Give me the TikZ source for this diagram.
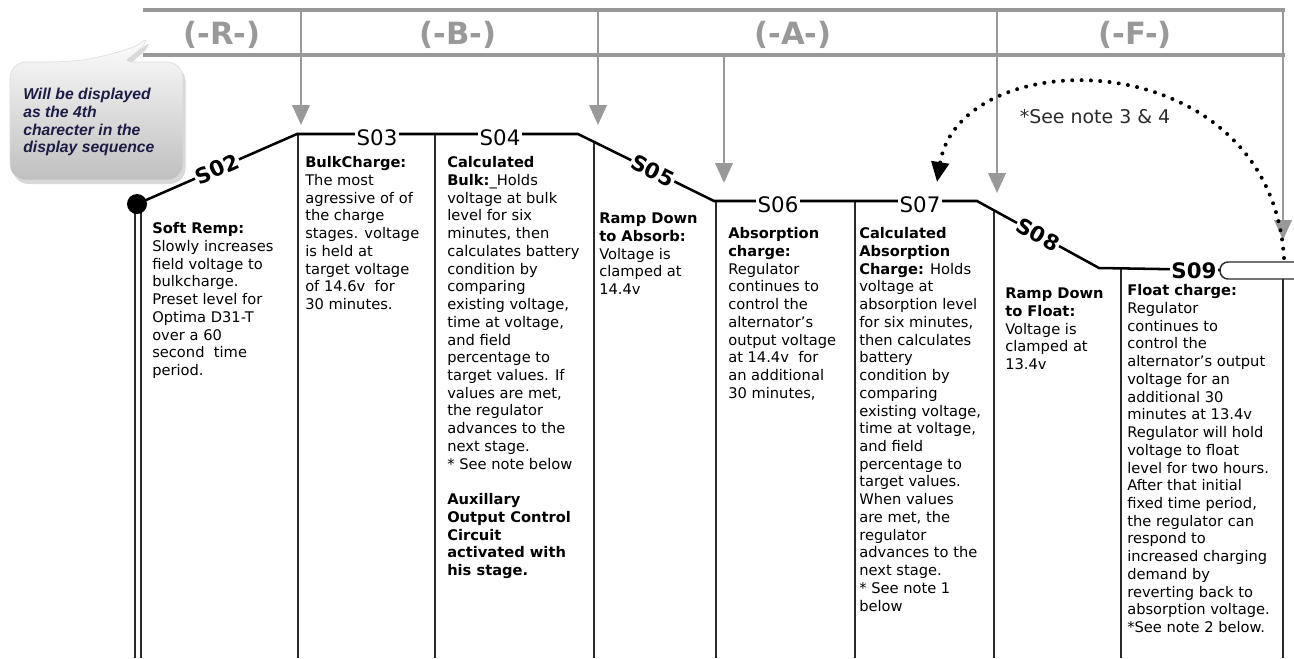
\documentclass[tikz,border=0pt]{standalone}
\usepackage{fontspec}
\setmainfont{DejaVu Sans}
\newfontfamily\calloutfont{Liberation Sans}
\usetikzlibrary{arrows.meta,positioning,shadows}

\definecolor{hdrgray}{HTML}{999999}
\definecolor{colgray}{HTML}{2A2A2A}
\definecolor{bubbletext}{HTML}{1C1C44}

\begin{document}
\begin{tikzpicture}[
    x = 0.75pt, y = -0.75pt, % one unit = one pixel, y going down
    hdr/.style = {draw = hdrgray, line width = 3.5pt},
    hdrarrow/.style = {draw = hdrgray, line width = 2.2pt, -{Triangle[width = 13pt, length = 15pt]}},
    hdrlabel/.style = {text = hdrgray, font = \fontsize{23}{23}\selectfont\bfseries},
    profile/.style = {draw = black, line width = 1.9pt}, % charge curve
    colline/.style = {draw = colgray, line width = 1.1pt},
    stagelab/.style = {fill = white, inner sep = 1pt, font = \fontsize{16}{16}\selectfont},
    stagebold/.style = {stagelab, font = \fontsize{16}{16}\selectfont\bfseries},
    backarc/.style = {line width = 3pt, line cap = round, dash pattern = on 0pt off 7pt,
        -{Triangle[width = 13pt, length = 15pt]}}
    ]

    \tikzset{coltext/.style = {
        anchor = north west,
        inner sep = 0pt,
        align = left,
        font = \fontsize{11}{13.3}\selectfont
        }}

    \useasboundingbox (0,0) rectangle (1294,658);

    % callout bubble
    \path[top color = white, bottom color = gray!50, draw = gray!30, rounded corners = 12pt,
        drop shadow = {opacity = 0.3, shadow xshift = 2pt, shadow yshift = -3pt}]
        (10,62) -- (64,62) .. controls (100,58) and (135,48) .. (152,33)
        .. controls (140,50) and (128,58) .. (118,62) -- (183,62) -- (183,180) -- (10,180) -- cycle;
    \node[anchor = north west, inner sep = 0pt, align = left, text = bubbletext,
        font = \calloutfont\fontsize{11.8}{13.3}\selectfont\bfseries\itshape] (bubbletxt) at (23,87)
        {\strut Will be displayed\\as the 4th\\charecter in the\\display sequence};

    % header
    \coordinate (hTL) at (143,10);
    \coordinate (hTR) at (1285,10);
    \coordinate (hBL) at (143,55);
    \coordinate (hBR) at (1285,55);
    \draw[hdr] (hTL) -- (hTR);
    \draw[hdr] (hBL) -- (hBR);
    \foreach \n/\x/\ytop/\ytip in {r/301/10/125, b/598/10/125, a/724/55/183, f/997/10/193, e/1283/10/240} {
        \coordinate (g\n) at (\x,\ytop);
        \coordinate (t\n) at (\x,\ytip);
        \draw[hdrarrow] (g\n) -- (t\n);
    }
    \node[hdrlabel] (labR) at (222,35) {(-R-)};
    \node[hdrlabel] (labB) at (458,35) {(-B-)};
    \node[hdrlabel] (labA) at (793,35) {(-A-)};
    \node[hdrlabel] (labF) at (1135,35) {(-F-)};

    % column lines
    \foreach \x/\y in {298/134, 435/134, 594/142, 716/201, 855/201, 994/210, 1121/268, 1283/279}
        \draw[colline] (\x,\y) -- (\x,658);
    \draw[colline] (135,204) -- (135,658);
    \draw[colline] (141,204) -- (141,658);

    % charge profile
    \node[circle, fill = black, inner sep = 0pt, minimum size = 15pt] (start) at (137,204) {};
    \coordinate (c1) at (297,134);
    \coordinate (c2) at (578,134);
    \coordinate (c3) at (714,201);
    \coordinate (c4) at (977,201);
    \coordinate (c5) at (1099,268);
    \coordinate (cap) at (1220,270);
    \draw[profile] (start.center) -- node[stagebold, sloped] {S02} (c1) -- (c2)
        -- node[stagebold, sloped, pos = 0.55] {S05} (c3) -- (c4)
        -- node[stagebold, sloped] {S08} (c5) -- (cap);
    \draw[colline, rounded corners = 6pt] (1294,262) -- (1220,262) -- (1220,279) -- (1294,279);
    \node[stagelab] (s03) at (377,138) {S03};
    \node[stagelab] (s04) at (500,138) {S04};
    \node[stagelab] (s06) at (778,205) {S06};
    \node[stagelab] (s07) at (920,205) {S07};
    \node[stagebold] (s09) at (1194,271) {S09};

    % loop back from float to absorption
    \coordinate (loopS) at (1284,258);
    \coordinate (loopE) at (937,182);
    \draw[backarc] (loopS) .. controls (1270,40) and (960,40) .. (loopE);
    \node[text = colgray, font = \fontsize{14.2}{14.2}\selectfont] (note34) at (1095,117) {*See note 3 \& 4};

    % stage texts
    \node[coltext] (txt02) at (152,221) {\strut\textbf{Soft Remp:}\\Slowly increases\\field voltage to\\bulkcharge.\\Preset level for\\Optima D31-T\\over a 60\\second~ time\\period.};
    \node[coltext] (txt03) at (305,155) {\strut\textbf{BulkCharge:}\\The most\\agressive of of\\the charge\\stages. voltage\\is held at\\target voltage\\of 14.6v~ for\\30 minutes.};
    \node[coltext] (txt04) at (447,155) {\strut\textbf{Calculated}\\\textbf{Bulk:}\_Holds\\voltage at bulk\\level for six\\minutes, then\\calculates battery\\condition by\\comparing\\existing voltage,\\time at voltage,\\and field\\percentage to\\target values. If\\values are met,\\the regulator\\advances to the\\next stage.\\{*} See note below\\[13.3pt]\textbf{Auxillary}\\\textbf{Output Control}\\\textbf{Circuit}\\\textbf{activated with}\\\textbf{his stage.}};
    \node[coltext] (txt05) at (599,211) {\strut\textbf{Ramp Down}\\\textbf{to Absorb:}\\Voltage is\\clamped at\\14.4v};
    \node[coltext] (txt06) at (728,226) {\strut\textbf{Absorption}\\\textbf{charge:}\\Regulator\\continues to\\control the\\alternator’s\\output voltage\\at 14.4v~ for\\an additional\\30 minutes,};
    \node[coltext] (txt07) at (859,226) {\strut\textbf{Calculated}\\\textbf{Absorption}\\\textbf{Charge:} Holds\\voltage at\\absorption level\\for six minutes,\\then calculates\\battery\\condition by\\comparing\\existing voltage,\\time at voltage,\\and field\\percentage to\\target values.\\When values\\are met, the\\regulator\\advances to the\\next stage.\\{*} See note 1\\below};
    \node[coltext] (txt08) at (1005,286) {\strut\textbf{Ramp Down}\\\textbf{to Float:}\\Voltage is\\clamped at\\13.4v};
    \node[coltext] (txt09) at (1127,283) {\strut\textbf{Float charge:}\\Regulator\\continues to\\control the\\alternator’s output\\voltage for an\\additional 30\\minutes at 13.4v\\Regulator will hold\\voltage to float\\level for two hours.\\After that initial\\fixed time period,\\the regulator can\\respond to\\increased charging\\demand by\\reverting back to\\absorption voltage.\\{*}See note 2 below.};
\end{tikzpicture}
\end{document}
